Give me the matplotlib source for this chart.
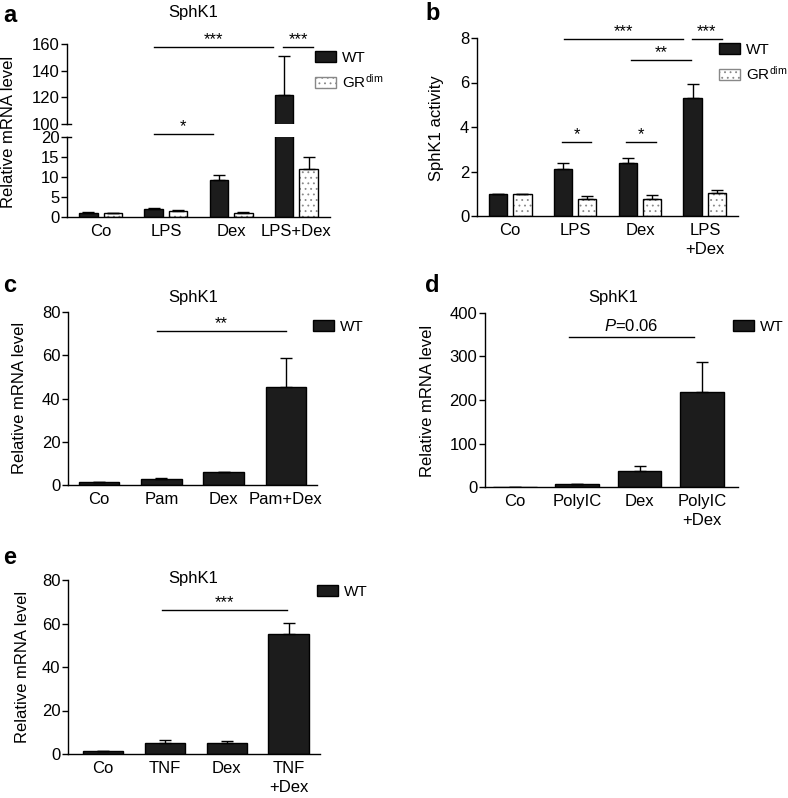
import numpy as np
import matplotlib.pyplot as plt
import matplotlib.transforms as mtransforms
from matplotlib.patches import Patch

plt.rcParams['font.family'] = ['Liberation Sans', 'DejaVu Sans']
plt.rcParams['mathtext.fontset'] = 'custom'
plt.rcParams['mathtext.rm'] = 'Liberation Sans'
plt.rcParams['mathtext.it'] = 'Liberation Sans:italic'
plt.rcParams['hatch.linewidth'] = 0.6
plt.rcParams['font.size'] = 12

# panel a: SphK1 mRNA, WT vs GRdim
a_labels = ['Co', 'LPS', 'Dex', 'LPS+Dex']
a_wt = [1.05, 2.1, 9.2, 122]
a_wt_err = [0.1, 0.2, 1.2, 29]
a_gr = [0.95, 1.5, 1.1, 11.9]
a_gr_err = [0.05, 0.35, 0.2, 3.1]

# panel b: SphK1 activity
b_labels = ['Co', 'LPS', 'Dex', 'LPS\n+Dex']
b_wt = [1.0, 2.1, 2.4, 5.3]
b_wt_err = [0.0, 0.3, 0.22, 0.65]
b_gr = [1.0, 0.78, 0.76, 1.02]
b_gr_err = [0.0, 0.13, 0.2, 0.15]

# panel c: Pam
c_labels = ['Co', 'Pam', 'Dex', 'Pam+Dex']
c_wt = [1.2, 3.0, 5.8, 45.4]
c_wt_err = [0.1, 0.3, 0.4, 13.5]

# panel d: PolyIC
d_labels = ['Co', 'PolyIC', 'Dex', 'PolyIC\n+Dex']
d_wt = [1.0, 6.0, 36, 218]
d_wt_err = [0.0, 1.0, 11.5, 69]

# panel e: TNF
e_labels = ['Co', 'TNF', 'Dex', 'TNF\n+Dex']
e_wt = [1.4, 5.0, 4.9, 55]
e_wt_err = [0.1, 1.3, 0.9, 5.2]

WT_COLOR = '#1c1c1c'
W = 788
H = 798

fig = plt.figure(figsize=(W / 100, H / 100), dpi=100)


def px_axes(x0, y0, x1, y1):
    # axes from pixel box (top-left origin)
    return fig.add_axes([x0 / W, 1 - y1 / H, (x1 - x0) / W, (y1 - y0) / H])


def style(ax, bottom=True):
    ax.spines['top'].set_visible(False)
    ax.spines['right'].set_visible(False)
    ax.spines['bottom'].set_visible(bottom)
    for s in ax.spines.values():
        s.set_linewidth(1.0)
    ax.tick_params(axis='y', length=4, width=1, pad=1.5, labelsize=12)
    ax.tick_params(axis='x', length=0, pad=5, labelsize=12)
    ax.set_facecolor('none')


def wt_bars(ax, x, vals, errs, width):
    ax.bar(x, vals, width, color=WT_COLOR, edgecolor='black', linewidth=1, zorder=2)
    ax.errorbar(x, vals, yerr=[np.zeros(len(vals)), errs], fmt='none', ecolor='black',
                elinewidth=1, capsize=4, capthick=1, zorder=3)


def gr_bars(ax, x, vals, errs, width):
    ax.bar(x, vals, width, color='white', edgecolor='#888888', hatch='...', linewidth=0, zorder=2)
    ax.bar(x, vals, width, color='none', edgecolor='black', linewidth=1, zorder=2)
    ax.errorbar(x, vals, yerr=[np.zeros(len(vals)), errs], fmt='none', ecolor='black',
                elinewidth=1, capsize=4, capthick=1, zorder=3)


def sig(ax, x0, x1, y, txt, size=12):
    ax.plot([x0, x1], [y, y], color='black', lw=1, clip_on=False)
    ax.text((x0 + x1) / 2, y, txt, ha='center', va='bottom', fontsize=size, clip_on=False)


def legend(handles, labels, x, y):
    fig.legend(handles, labels, loc='upper left', bbox_to_anchor=(x / W, 1 - y / H),
               bbox_transform=fig.transFigure, frameon=False, fontsize=11,
               borderpad=0, borderaxespad=0, handlelength=1.4, handleheight=0.75,
               handletextpad=0.35, labelspacing=0.5)


def break_mark(ax, y):
    trans = mtransforms.blended_transform_factory(ax.transAxes, ax.transData)
    ax.plot([0, 0.016], [y, y], color='black', lw=1, transform=trans, clip_on=False)


wt_patch = Patch(facecolor=WT_COLOR, edgecolor='black')
gr_patch = Patch(facecolor='white', edgecolor='#888888', hatch='...', linewidth=1)

off = 0.19
bw = 0.28

# ---- a ----
x = np.arange(4)
ax_top = px_axes(67, 44, 330, 124)
ax_bot = px_axes(67, 137, 330, 217)
for ax in (ax_top, ax_bot):
    wt_bars(ax, x - off, a_wt, a_wt_err, bw)
    gr_bars(ax, x + off, a_gr, a_gr_err, bw)
    ax.set_xlim(-0.52, 3.52)
ax_top.set_ylim(100, 160)
ax_top.set_yticks([100, 120, 140, 160])
ax_top.set_xticks([])
style(ax_top, bottom=False)
break_mark(ax_top, 100)
ax_bot.set_ylim(0, 20)
ax_bot.set_yticks([0, 5, 10, 15, 20])
ax_bot.set_xticks(x)
ax_bot.set_xticklabels(a_labels)
style(ax_bot)
break_mark(ax_bot, 20)
sig(ax_top, 0.81, 2.65, 157.8, '***')
sig(ax_top, 2.8, 3.26, 157.8, '***')
sig(ax_bot, 0.81, 1.72, 20.75, '*')
legend([wt_patch, gr_patch], ['WT', r'GR$^{\mathrm{dim}}$'], 315, 51)
fig.text(193 / W, 1 - 13 / H, 'SphK1', ha='center', va='center', fontsize=12)
fig.text(3 / W, 1 - 15 / H, 'a', ha='left', va='center', fontsize=17, fontweight='bold')
fig.text(9 / W, 1 - 132 / H, 'Relative mRNA level', rotation=90, ha='center', va='center', fontsize=12)

# ---- b ----
ax = px_axes(477, 38, 738, 216)
wt_bars(ax, x - off, b_wt, b_wt_err, bw)
gr_bars(ax, x + off, b_gr, b_gr_err, bw)
ax.set_xlim(-0.51, 3.51)
ax.set_ylim(0, 8)
ax.set_yticks([0, 2, 4, 6, 8])
ax.set_xticks(x)
ax.set_xticklabels(b_labels, linespacing=1.3, va='top')
style(ax)
sig(ax, 0.83, 2.66, 7.96, '***')
sig(ax, 2.8, 3.26, 7.96, '***')
sig(ax, 1.86, 2.78, 7.01, '**')
sig(ax, 0.8, 1.25, 3.33, '*')
sig(ax, 1.78, 2.25, 3.33, '*')
legend([wt_patch, gr_patch], ['WT', r'GR$^{\mathrm{dim}}$'], 719, 43)
fig.text(425 / W, 1 - 13 / H, 'b', ha='left', va='center', fontsize=17, fontweight='bold')
fig.text(437 / W, 1 - 128 / H, 'SphK1 activity', rotation=90, ha='center', va='center', fontsize=12)

# ---- c ----
ax = px_axes(68, 312, 317, 485)
wt_bars(ax, x, c_wt, c_wt_err, 0.65)
ax.set_xlim(-0.5, 3.5)
ax.set_ylim(0, 80)
ax.set_yticks([0, 20, 40, 60, 80])
ax.set_xticks(x)
ax.set_xticklabels(c_labels)
style(ax)
sig(ax, 0.93, 3.0, 71.2, '**')
legend([wt_patch], ['WT'], 313, 320)
fig.text(193 / W, 1 - 298 / H, 'SphK1', ha='center', va='center', fontsize=12)
fig.text(3 / W, 1 - 285 / H, 'c', ha='left', va='center', fontsize=17, fontweight='bold')
fig.text(20 / W, 1 - 398 / H, 'Relative mRNA level', rotation=90, ha='center', va='center', fontsize=12)

# ---- d ----
ax = px_axes(485, 313, 738, 487)
wt_bars(ax, x, d_wt, d_wt_err, 0.7)
ax.set_xlim(-0.48, 3.58)
ax.set_ylim(0, 400)
ax.set_yticks([0, 100, 200, 300, 400])
ax.set_xticks(x)
ax.set_xticklabels(d_labels, linespacing=1.3, va='top')
style(ax)
ax.plot([0.87, 2.87], [345, 345], color='black', lw=1, clip_on=False)
ax.text(1.87, 352, r'$P$=0.06', ha='center', va='bottom', fontsize=12)
legend([wt_patch], ['WT'], 733, 320)
fig.text(613 / W, 1 - 298 / H, 'SphK1', ha='center', va='center', fontsize=12)
fig.text(425 / W, 1 - 285 / H, 'd', ha='left', va='center', fontsize=17, fontweight='bold')
fig.text(427 / W, 1 - 401 / H, 'Relative mRNA level', rotation=90, ha='center', va='center', fontsize=12)

# ---- e ----
ax = px_axes(68, 580, 320, 754)
wt_bars(ax, x, e_wt, e_wt_err, 0.65)
ax.set_xlim(-0.57, 3.51)
ax.set_ylim(0, 80)
ax.set_yticks([0, 20, 40, 60, 80])
ax.set_xticks(x)
ax.set_xticklabels(e_labels, linespacing=1.3, va='top')
style(ax)
sig(ax, 0.95, 2.98, 66.2, '***')
legend([wt_patch], ['WT'], 317, 585)
fig.text(193 / W, 1 - 578 / H, 'SphK1', ha='center', va='center', fontsize=12)
fig.text(3 / W, 1 - 557 / H, 'e', ha='left', va='center', fontsize=17, fontweight='bold')
fig.text(23 / W, 1 - 667 / H, 'Relative mRNA level', rotation=90, ha='center', va='center', fontsize=12)

fig.savefig('out.png', dpi=100)
